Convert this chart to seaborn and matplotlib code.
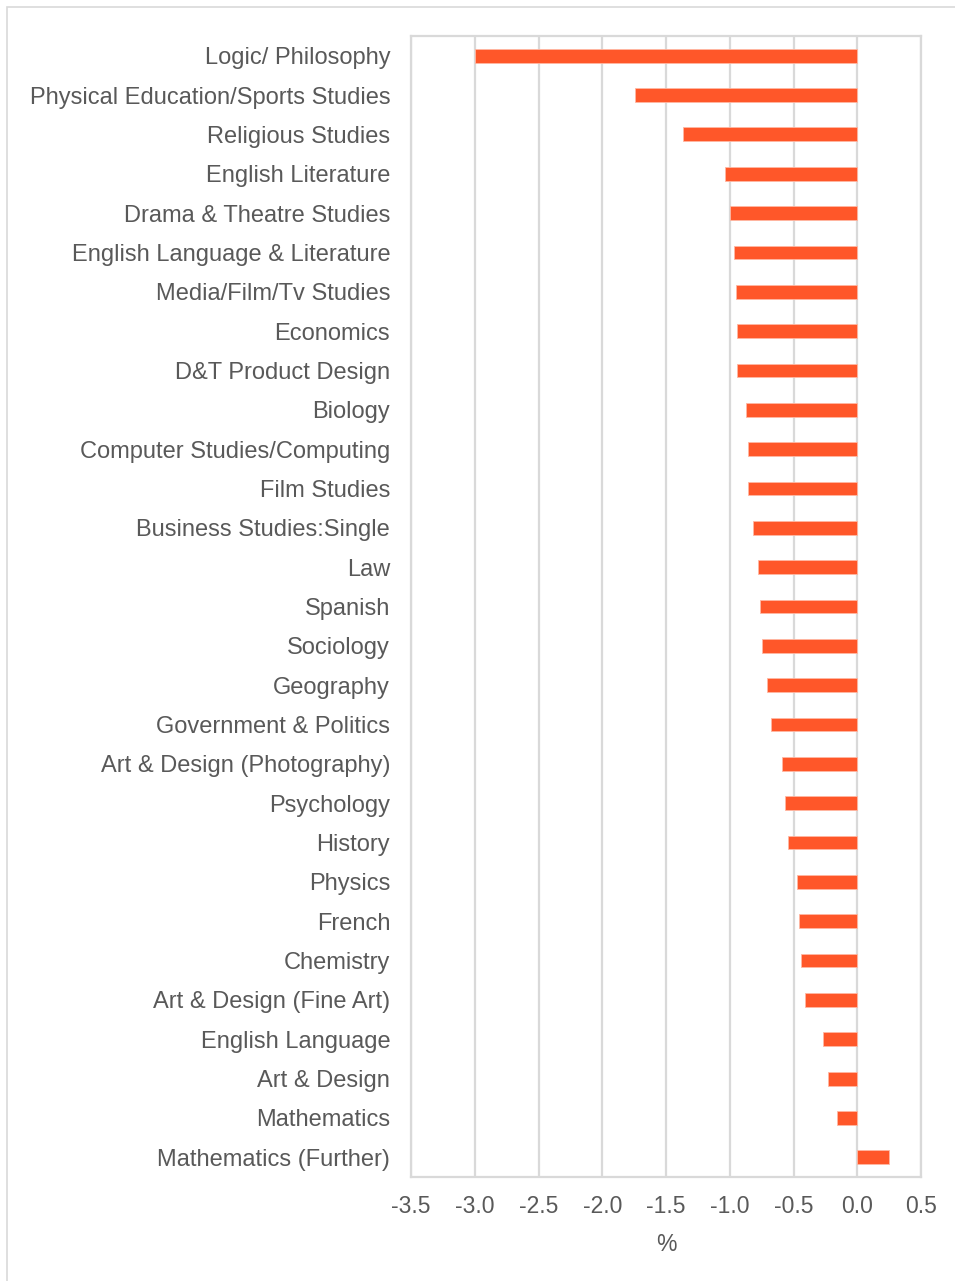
import numpy as np
import pandas as pd
import seaborn as sns
import matplotlib.pyplot as plt
from matplotlib.patches import Rectangle

subjects = [
    'Logic/ Philosophy', 'Physical Education/Sports Studies', 'Religious Studies',
    'English Literature', 'Drama & Theatre Studies', 'English Language & Literature',
    'Media/Film/Tv Studies', 'Economics', 'D&T Product Design', 'Biology',
    'Computer Studies/Computing', 'Film Studies', 'Business Studies:Single', 'Law',
    'Spanish', 'Sociology', 'Geography', 'Government & Politics',
    'Art & Design (Photography)', 'Psychology', 'History', 'Physics', 'French',
    'Chemistry', 'Art & Design (Fine Art)', 'English Language', 'Art & Design',
    'Mathematics', 'Mathematics (Further)',
]
change = [
    -3.00, -1.74, -1.37, -1.04, -1.00, -0.97, -0.95, -0.94, -0.94, -0.87,
    -0.86, -0.855, -0.82, -0.78, -0.76, -0.75, -0.71, -0.68, -0.59, -0.57,
    -0.54, -0.47, -0.46, -0.44, -0.41, -0.27, -0.23, -0.16, 0.25,
]
x_ticks = [-3.5, -3.0, -2.5, -2.0, -1.5, -1.0, -0.5, 0.0, 0.5]

df = pd.DataFrame({'subject': subjects, 'change': change})

sns.set_theme(style='white')
plt.rcParams['font.family'] = ['Liberation Sans', 'DejaVu Sans']

text_col = '#595959'
grid_col = '#d9d9d9'

fig = plt.figure(figsize=(9.55, 12.81), dpi=100)
ax = fig.add_axes([0.4304, 0.0812, 0.5340, 0.8907])

# outer chart border
fig.patches.append(Rectangle((7 / 955, -0.01), 1.0, 1 - 7 / 1281 + 0.01,
                             transform=fig.transFigure, fill=False,
                             edgecolor=grid_col, linewidth=1.2))

sns.barplot(data=df, x='change', y='subject', color='#ff5729', width=0.35,
            edgecolor='#ffb8a3', linewidth=0.6, saturation=1, ax=ax)

ax.set_xlim(-3.5, 0.5)
ax.set_ylim(len(subjects) - 0.5, -0.5)
ax.set_xticks(x_ticks)
ax.set_xticklabels([f'{v:.1f}' for v in x_ticks])
ax.xaxis.grid(True, color=grid_col, linewidth=1.6)
ax.yaxis.grid(False)
ax.set_axisbelow(True)
for s in ax.spines.values():
    s.set_color(grid_col)
    s.set_linewidth(1.6)

ax.tick_params(axis='both', length=0, colors=text_col)
ax.tick_params(axis='y', labelsize=17, pad=15)
ax.tick_params(axis='x', labelsize=16.5, pad=13)
ax.set_xlabel('%', fontsize=16.5, color=text_col, labelpad=11)
ax.set_ylabel('')

fig.savefig('out.png', dpi=100)
